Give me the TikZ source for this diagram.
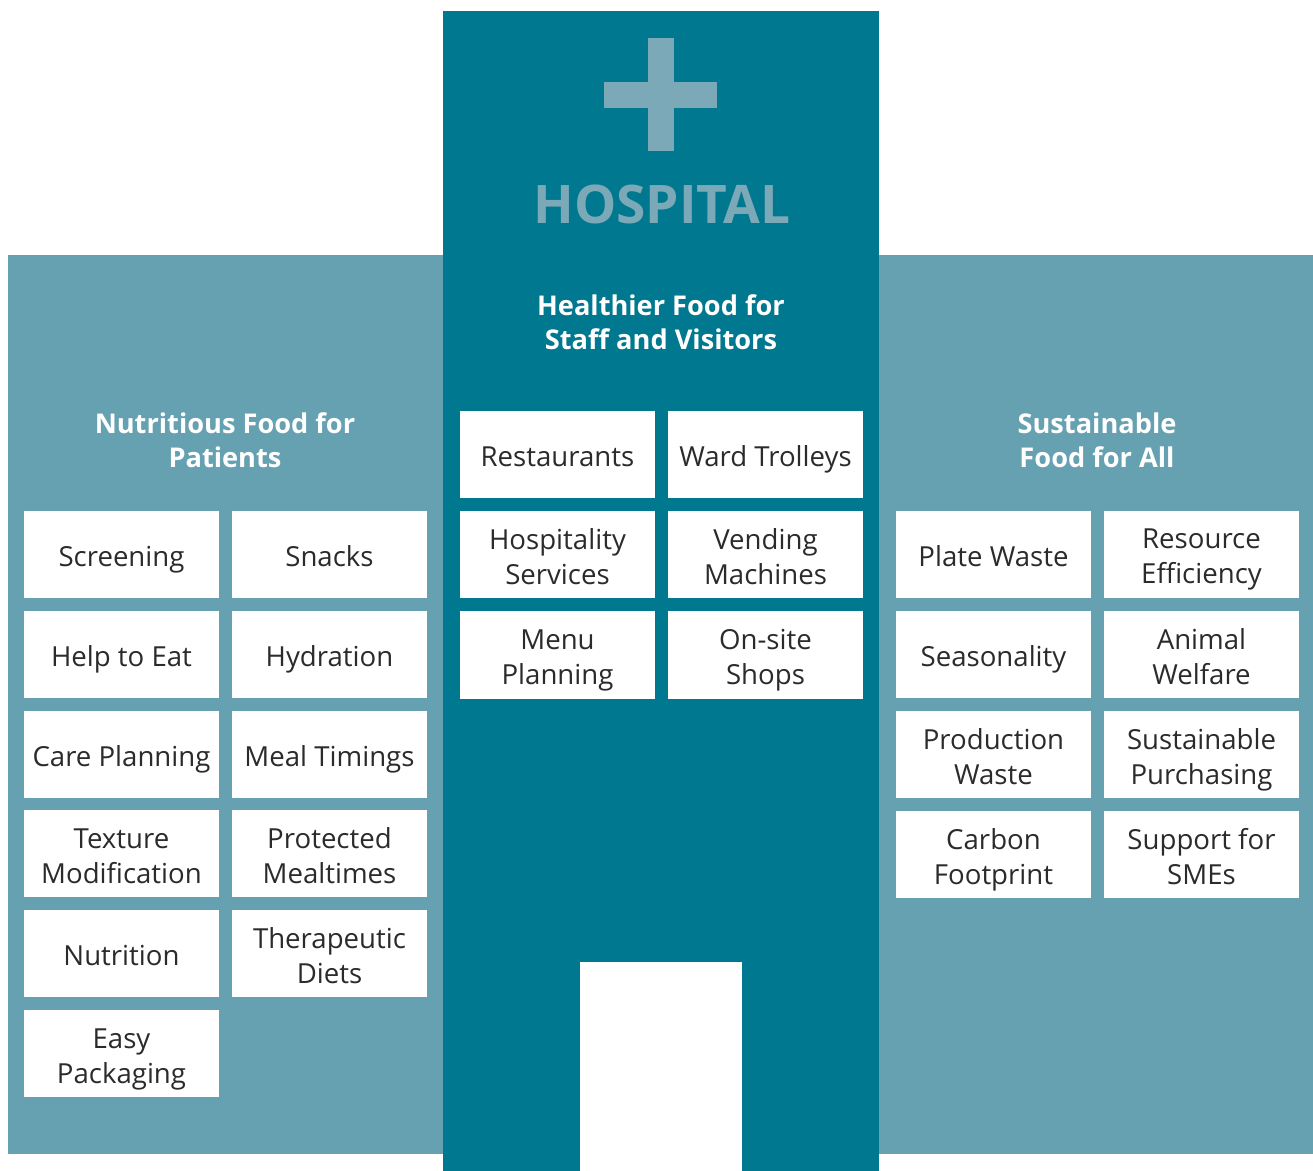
\documentclass[tikz,border=0pt]{standalone}
\usepackage{fontspec}
\setmainfont{Open Sans}
\definecolor{tower}{HTML}{00788F}
\definecolor{wing}{HTML}{66A1B1}
\definecolor{crossc}{HTML}{7BA9B8}
\definecolor{itemtext}{HTML}{2B2B2B}
\newcommand\lstrut{\strut\rule{0pt}{17.25pt}}
\newcommand\br{\\\strut}
\tikzset{
  item/.style={fill=white, minimum width=97.5pt, minimum height=43.5pt, inner sep=0pt,
    align=center, text=itemtext, font=\fontsize{13.8}{17.5}\selectfont},
  heading/.style={text=white, align=center, font=\bfseries\fontsize{13.6}{17}\selectfont}
}
\begin{document}
\begin{tikzpicture}[x=0.5pt,y=-0.5pt]
\useasboundingbox (0,0) rectangle (1313,1171);
\fill[wing] (8,255) rectangle (1313,1154);
\fill[tower] (443,11) rectangle (879,1171);
\fill[white] (580,962) rectangle (742,1171);
\fill[crossc] (648,38) rectangle (674,151);
\fill[crossc] (604,82) rectangle (717,108);
\node[text=crossc, font=\bfseries\fontsize{26.6}{30}\selectfont] (title) at (662,204) {HOSPITAL};
\node[heading] (patients) at (225,440) {Nutritious Food for\\Patients};
\node[heading] (staff) at (661,322) {Healthier Food for\\Staff and Visitors};
\node[heading] (sustain) at (1097,440) {Sustainable\\Food for All};
\foreach \t [count=\n from 0] in {Screening, Snacks, Help to Eat, Hydration, Care Planning,
    Meal Timings, {Texture\br Modification}, {Protected\br Mealtimes}, Nutrition,
    {Therapeutic\br Diets}, {Easy\br Packaging}} {
	\pgfmathsetmacro{\x}{121.5 + 208*mod(\n,2)}
	\pgfmathsetmacro{\y}{554.5 + 99.8*int(\n/2)}
	\node[item] (pat\n) at (\x,\y) {\lstrut\t};
}
\foreach \t [count=\n from 0] in {Restaurants, Ward Trolleys, {Hospitality\br Services},
    {Vending\br Machines}, {Menu\br Planning}, {On-site\br Shops}} {
	\pgfmathsetmacro{\x}{557.5 + 208*mod(\n,2)}
	\pgfmathsetmacro{\y}{455 + 100*int(\n/2)}
	\node[item] (staff\n) at (\x,\y) {\lstrut\t};
}
\foreach \t [count=\n from 0] in {Plate Waste, {Resource\br Efficiency}, Seasonality,
    {Animal\br Welfare}, {Production\br Waste}, {Sustainable\br Purchasing},
    {Carbon\br Footprint}, {Support for\br SMEs}} {
	\pgfmathsetmacro{\x}{993.5 + 208*mod(\n,2)}
	\pgfmathsetmacro{\y}{554.5 + 100*int(\n/2)}
	\node[item] (sus\n) at (\x,\y) {\lstrut\t};
}
\end{tikzpicture}
\end{document}
